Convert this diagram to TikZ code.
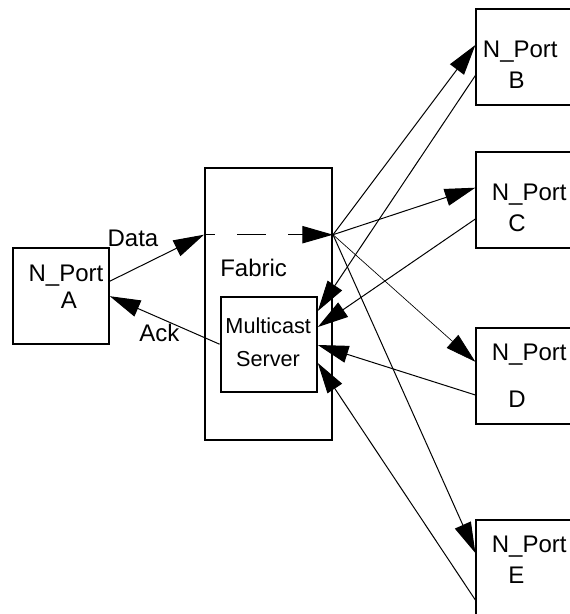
\documentclass[tikz,border=0pt]{standalone}
\usepackage{fontspec}
\setmainfont{Liberation Sans}
\usetikzlibrary{arrows.meta}

\begin{document}
\begin{tikzpicture}[x=0.75pt,y=0.75pt,yscale=-1,xscale=1,
	port/.style={draw, line width=1.5pt, minimum width=72pt, minimum height=72pt, inner sep=0pt},
	txt/.style={anchor=base, inner sep=0.75pt, font=\fontsize{18}{21}\selectfont},
	small/.style={txt, font=\fontsize{16.25}{19}\selectfont},
	arr/.style={line width=0.75pt, -{Triangle[length=23pt,width=13pt]}}]
	%set diagram left start at 0, and has height of 614
	\useasboundingbox (0,0) rectangle (569,614);
	
	%Shape: Rectangle
	\node[port] (A) at (60.8,296.2) {};
	%Shape: Rectangle
	\node[port, minimum width=95.25pt, minimum height=204pt] (fab) at (268.5,304) {};
	%Shape: Rectangle
	\node[port, minimum width=72.2pt, minimum height=71.5pt] (srv) at (268.7,344.2) {};
	%Shape: Rectangle
	\node[port, minimum width=74pt] (B) at (525.7,56.7) {};
	%Shape: Rectangle
	\node[port, minimum width=74pt] (C) at (525.7,200.4) {};
	%Shape: Rectangle
	\node[port, minimum width=74pt] (D) at (525.7,376.4) {};
	%Shape: Rectangle
	\node[port, minimum width=74pt] (E) at (525.7,568) {};
	
	\coordinate (fin) at (fab.west |- 0,234.7);
	\coordinate (hub) at (fab.east |- 0,234.7);
	
	%Straight Lines
	\draw[arr] (A.17) -- (fin);
	%Straight Lines
	\draw[arr] (srv.west) -- (A.east);
	%Straight Lines
	\draw[arr, dash pattern=on 21.75pt off 16.5pt, dash phase=13.5pt] (fin) -- (hub);
	%Straight Lines
	\draw[arr] (hub) -- (B.west |- 0,45);
	\draw[arr] (hub) -- (C.west |- 0,187.7);
	\draw[arr, line width=0.5pt] (hub) -- (D.west |- 0,361.8);
	\draw[arr] (hub) -- (E.west |- 0,553);
	%Straight Lines
	\draw[arr] (B.west |- 0,75.5) -- (srv.east |- 0,311);
	\draw[arr] (C.west |- 0,219) -- (srv.east |- 0,327);
	\draw[arr] (D.west |- 0,395) -- (srv.east |- 0,345);
	\draw[arr] (E.west |- 0,600) -- (srv.east |- 0,363);
	
	% Text Node
	\node[txt] (atop) at (66,281) {N\_Port};
	\node[txt] (abot) at (69,308) {A};
	% Text Node
	\node[txt] (data) at (133,246.6) {Data};
	% Text Node
	\node[txt] (ack) at (159.3,341.6) {Ack};
	% Text Node
	\node[txt] (fabtxt) at (253.6,276) {Fabric};
	% Text Node
	\node[small] (srvtop) at (268.2,333) {Multicast};
	\node[small] (srvbot) at (268,366.5) {Server};
	% Text Node
	\node[txt] (btop) at (520.3,57.7) {N\_Port};
	\node[txt] (bbot) at (516.5,88) {B};
	% Text Node
	\node[txt] (ctop) at (529.2,200.8) {N\_Port};
	\node[txt] (cbot) at (517,231.7) {C};
	% Text Node
	\node[txt] (dtop) at (529.2,360.8) {N\_Port};
	\node[txt] (dbot) at (517,407.7) {D};
	% Text Node
	\node[txt] (etop) at (529.2,552.4) {N\_Port};
	\node[txt] (ebot) at (516.3,583) {E};
	
\end{tikzpicture}
\end{document}
